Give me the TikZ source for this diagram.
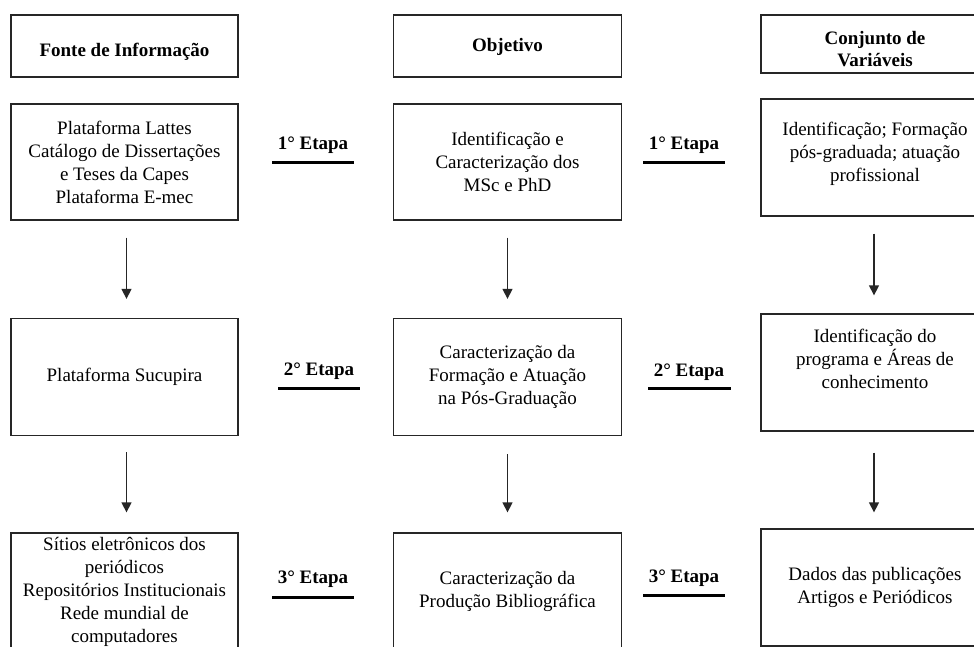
\documentclass[tikz,border=0pt]{standalone}
\usepackage{fontspec}
\setmainfont{Liberation Serif}
\usetikzlibrary{arrows.meta}
\tikzset{
  box/.style={draw=black!85, line width=1.3pt, rectangle, align=center, inner sep=2pt,
    font=\fontsize{19}{23}\selectfont},
  hdr/.style={box, font=\fontsize{19}{22}\selectfont\bfseries},
  colL/.style={minimum width=227pt},
  colM/.style={minimum width=228pt},
  colR/.style={minimum width=228pt},
  arr/.style={draw=black!85, line width=1.3pt, -{Triangle[width=10pt,length=10pt]}},
  etapa/.style={font=\fontsize{19}{22}\selectfont\bfseries, inner sep=0pt},
  etline/.style={line width=3pt, draw=black}
}
\begin{document}
\begin{tikzpicture}[x=1pt,y=-1pt]
\useasboundingbox (0,0) rectangle (974,646);
\clip (0,0) rectangle (974,646);
\fill[white] (0,0) rectangle (974,646);

% headers
\node[hdr,colL,minimum height=62pt] (hL) at (124.5,46) {\raisebox{-10pt}[0pt][0pt]{Fonte de Informação}};
\node[hdr,colM,minimum height=62pt] (hM) at (507.5,46) {\raisebox{-5.5pt}[0pt][0pt]{Objetivo}};
\node[hdr,colR,minimum height=58pt] (hR) at (875,44) {\rule{0pt}{24pt}Conjunto de\\Variáveis};

% left column
\node[box,colL,minimum height=116pt] (l1) at (124.5,162) {Plataforma Lattes\\Catálogo de Dissertações\\e Teses da Capes\\Plataforma E-mec};
\node[box,colL,minimum height=117pt] (l2) at (124.5,377) {Plataforma Sucupira};
\node[box,colL,minimum height=117pt] (l3) at (124.5,591.5) {Sítios eletrônicos dos\\periódicos\\Repositórios Institucionais\\Rede mundial de\\computadores};

% middle column
\node[box,colM,minimum height=116pt] (m1) at (507.5,162) {Identificação e\\Caracterização dos\\MSc e PhD};
\node[box,colM,minimum height=117pt] (m2) at (507.5,377) {Caracterização da\\Formação e Atuação\\na Pós-Graduação};
\node[box,colM,minimum height=117pt] (m3) at (507.5,591.5) {Caracterização da\\Produção Bibliográfica};

% right column
\node[box,colR,minimum height=117pt] (r1) at (875,157.5) {Identificação; Formação\\pós-graduada; atuação\\profissional\\[-12pt]};
\node[box,colR,minimum height=117pt] (r2) at (875,372.5) {Identificação do\\programa e Áreas de\\conhecimento\\[5pt]};
\node[box,colR,minimum height=117pt] (r3) at (875,587.5) {Dados das publicações\\Artigos e Periódicos};

% arrows
\draw[arr] ([xshift=2pt,yshift=-17pt]l1.south) -- ([xshift=2pt,yshift=19pt]l2.north);
\draw[arr] ([xshift=2pt,yshift=-16pt]l2.south) -- ([xshift=2pt,yshift=20pt]l3.north);
\draw[arr] ([yshift=-17pt]m1.south) -- ([yshift=19pt]m2.north);
\draw[arr] ([yshift=-18pt]m2.south) -- ([yshift=20pt]m3.north);
\draw[arr] ([xshift=-1pt,yshift=-17pt]r1.south) -- ([xshift=-1pt,yshift=18pt]r2.north);
\draw[arr] ([xshift=-1pt,yshift=-21pt]r2.south) -- ([xshift=-1pt,yshift=16pt]r3.north);

% etapa labels
\node[etapa] (e1a) at (313,145) {1° Etapa};
\draw[etline] (272,162) -- (354,162);
\node[etapa] (e1b) at (684,145) {1° Etapa};
\draw[etline] (643,162) -- (725,162);
\node[etapa] (e2a) at (319,371) {2° Etapa};
\draw[etline] (278,388) -- (360,388);
\node[etapa] (e2b) at (689,372) {2° Etapa};
\draw[etline] (648,388) -- (731,388);
\node[etapa] (e3a) at (313,579) {3° Etapa};
\draw[etline] (272,597) -- (354,597);
\node[etapa] (e3b) at (684,578) {3° Etapa};
\draw[etline] (643,595) -- (725,595);
\end{tikzpicture}
\end{document}
